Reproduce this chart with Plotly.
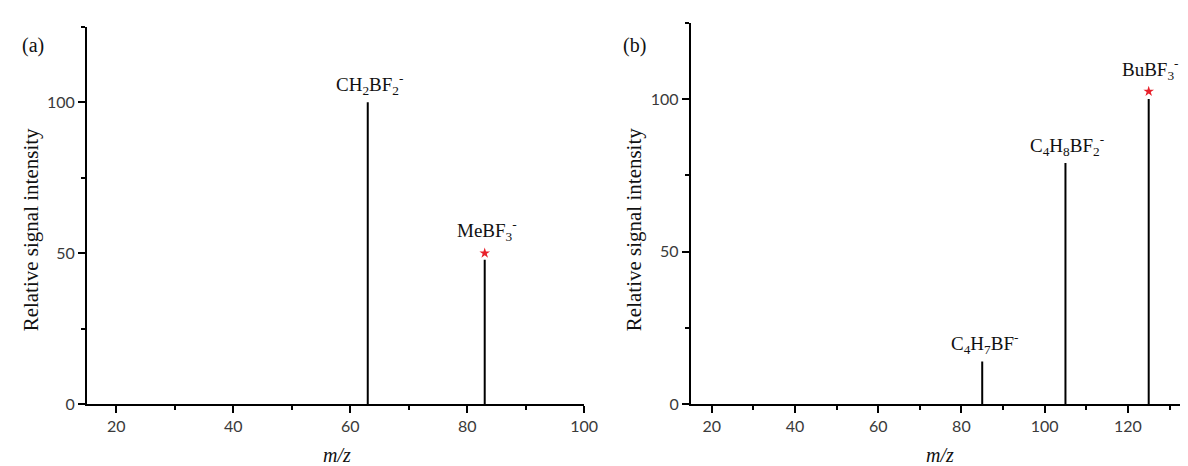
import plotly.graph_objects as go

# ---- data ----
mz_a = [63, 83]
int_a = [100, 47.8]
labels_a = ["CH<sub>2</sub>BF<sub>2</sub><sup>-</sup>", "MeBF<sub>3</sub><sup>-</sup>"]
star_a = [False, True]

mz_b = [85, 105, 125]
int_b = [14, 79, 100]
labels_b = ["C<sub>4</sub>H<sub>7</sub>BF<sup>-</sup>", "C<sub>4</sub>H<sub>8</sub>BF<sub>2</sub><sup>-</sup>", "BuBF<sub>3</sub><sup>-</sup>"]
star_b = [False, False, True]

x_ticks_a = [20, 40, 60, 80, 100]
x_ticks_b = [20, 40, 60, 80, 100, 120]
y_ticks = [0, 50, 100]

FONT = "Liberation Serif"
TICKFONT = "Lato"
W, H = 1188, 466

def px(x):
    return x / W

def py(y):
    return 1 - y / H

fig = go.Figure()

def stems(mz, ints):
    xs, ys = [], []
    for m, v in zip(mz, ints):
        xs += [m, m, None]
        ys += [0, v, None]
    return xs, ys

for (mz, ints, xa, ya) in [(mz_a, int_a, "x", "y"), (mz_b, int_b, "x2", "y2")]:
    xs, ys = stems(mz, ints)
    fig.add_trace(go.Scatter(x=xs, y=ys, mode="lines", line=dict(color="black", width=2),
                             xaxis=xa, yaxis=ya, showlegend=False, hoverinfo="skip"))

# red stars marking parent ions
for (mz, ints, st, xa, ya, off) in [(mz_a, int_a, star_a, "x", "y", 2.2), (mz_b, int_b, star_b, "x2", "y2", 2.5)]:
    sx = [m for m, s in zip(mz, st) if s]
    sy = [v + off for v, s in zip(ints, st) if s]
    fig.add_trace(go.Scatter(x=sx, y=sy, mode="markers",
                             marker=dict(symbol="star", color="#e8202a", size=8, line=dict(width=0)),
                             xaxis=xa, yaxis=ya, showlegend=False, hoverinfo="skip"))

# peak labels
ann = []
for (mz, ints, labs, st, xr, yr) in [(mz_a, int_a, labels_a, star_a, "x", "y"),
                                     (mz_b, int_b, labels_b, star_b, "x2", "y2")]:
    for m, v, l, s in zip(mz, ints, labs, st):
        ann.append(dict(x=m, y=v, xref=xr, yref=yr, text=l, showarrow=False,
                        xanchor="center", yanchor="bottom", yshift=(14 if s else 2), xshift=2,
                        font=dict(family=FONT, size=19, color="#111")))

# panel labels and axis titles
ann.append(dict(x=px(12), y=py(38), xref="paper", yref="paper", text="(a)", showarrow=False,
                xanchor="left", yanchor="middle", font=dict(family=FONT, size=20, color="#111")))
ann.append(dict(x=px(620), y=py(38), xref="paper", yref="paper", text="(b)", showarrow=False,
                xanchor="left", yanchor="middle", font=dict(family=FONT, size=20, color="#111")))
ann.append(dict(x=px(23), y=py(226), xref="paper", yref="paper", text="Relative signal intensity",
                showarrow=False, textangle=-90, xanchor="center", yanchor="middle",
                font=dict(family=FONT, size=21, color="#111")))
ann.append(dict(x=px(633), y=py(226), xref="paper", yref="paper", text="Relative signal intensity",
                showarrow=False, textangle=-90, xanchor="center", yanchor="middle",
                font=dict(family=FONT, size=21, color="#111")))
ann.append(dict(x=px(333), y=py(456), xref="paper", yref="paper", text="<i>m/z</i>",
                showarrow=False, xanchor="center", yanchor="middle",
                font=dict(family=FONT, size=20, color="#111")))
ann.append(dict(x=px(943), y=py(456), xref="paper", yref="paper", text="<i>m/z</i>",
                showarrow=False, xanchor="center", yanchor="middle",
                font=dict(family=FONT, size=20, color="#111")))

axis_common = dict(showline=True, linecolor="black", linewidth=2, showgrid=False, zeroline=False,
                   ticks="outside", ticklen=7, tickwidth=2, tickcolor="black",
                   tickfont=dict(family=TICKFONT, size=16, color="#3a3a3a"))
minor_x = dict(ticks="outside", dtick=10, tick0=0, ticklen=4, tickwidth=2, tickcolor="black")
minor_y = dict(ticks="outside", dtick=25, tick0=0, ticklen=4, tickwidth=2, tickcolor="black")

fig.update_layout(
    width=W, height=H, margin=dict(l=0, r=0, t=0, b=0),
    paper_bgcolor="white", plot_bgcolor="white",
    xaxis=dict(domain=[px(80), px(583)], range=[15, 100], tickvals=x_ticks_a, minor=minor_x,
               anchor="y", **axis_common),
    yaxis=dict(domain=[py(404), py(19)], range=[0, 125], tickvals=y_ticks, minor=minor_y,
               anchor="x", **axis_common),
    xaxis2=dict(domain=[px(691), 1.0], range=[15, 133], tickvals=x_ticks_b, minor=minor_x,
                anchor="y2", **axis_common),
    yaxis2=dict(domain=[py(404), py(15)], range=[0, 125], tickvals=y_ticks, minor=minor_y,
                anchor="x2", **axis_common),
    annotations=ann,
)

fig.write_html("out.html")
